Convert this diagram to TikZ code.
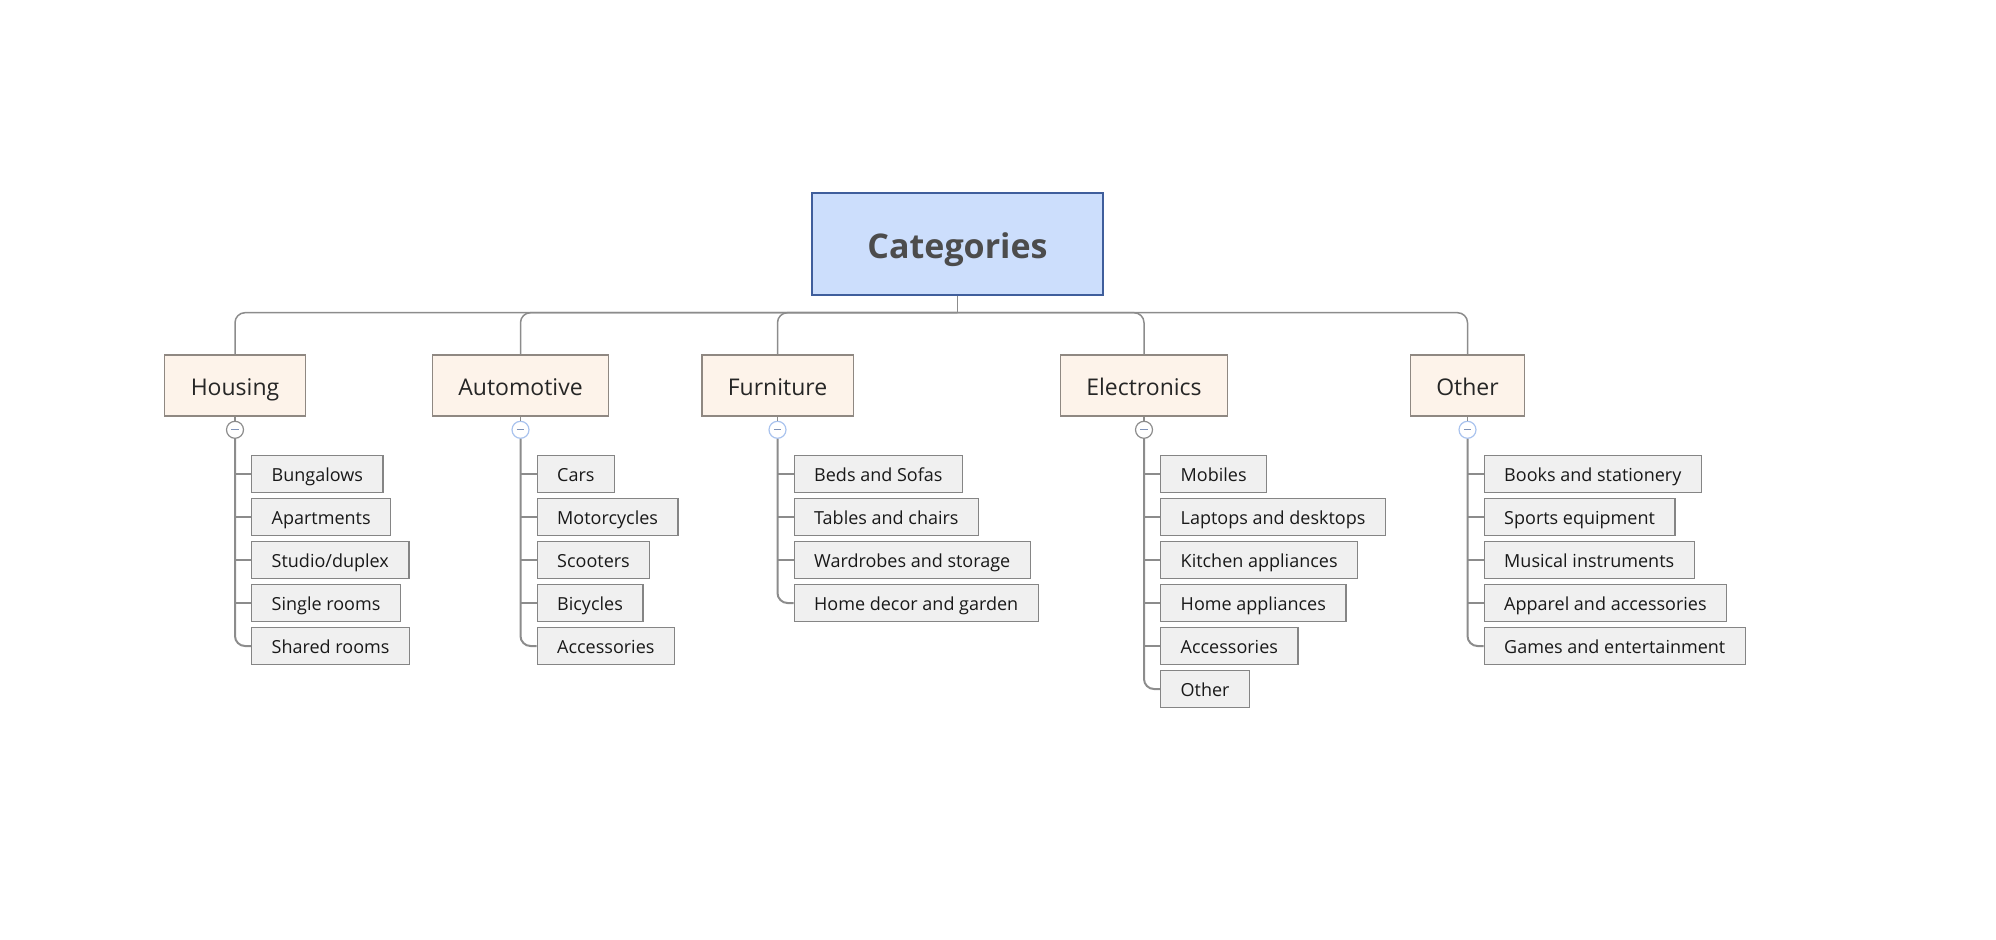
\documentclass[tikz,border=0pt]{standalone}
\usepackage{fontspec}
\setmainfont{Open Sans}
\usetikzlibrary{positioning}

\definecolor{rootfill}{HTML}{CCDEFC}
\definecolor{rootline}{HTML}{3F5E9C}
\definecolor{catfill}{HTML}{FDF3EA}
\definecolor{catline}{HTML}{8F8882}
\definecolor{leaffill}{HTML}{F0F0F0}
\definecolor{leafline}{HTML}{858585}
\definecolor{wirecol}{HTML}{8C8C8C}
\definecolor{togblue}{HTML}{A9C3EE}
\definecolor{minuscol}{HTML}{7F93B8}

\begin{document}
\begin{tikzpicture}[x=0.5pt,y=-0.5pt,
  root/.style={draw=rootline,fill=rootfill,line width=0.7pt,minimum width=145.5pt,
    minimum height=51pt,text height=17.5pt,text depth=3pt,
    font=\fontsize{17}{20}\selectfont\bfseries,text=black!70},
  cat/.style={draw=catline,fill=catfill,line width=0.7pt,minimum height=30.5pt,
    inner xsep=13pt,text height=12pt,text depth=2pt,
    font=\fontsize{11.5}{14}\selectfont,text=black!85},
  leaf/.style={draw=leafline,fill=leaffill,line width=0.7pt,minimum height=18.25pt,
    inner xsep=10pt,text height=9pt,text depth=1.8pt,anchor=west,
    font=\fontsize{9}{11}\selectfont,text=black!90},
  tog/.style={circle,draw=togblue,fill=white,line width=0.6pt,minimum size=8.5pt,inner sep=0pt,
    path picture={\draw[minuscol,line width=0.6pt]
      ([xshift=-1.8pt]path picture bounding box.center) -- ([xshift=1.8pt]path picture bounding box.center);}},
  togoff/.style={tog,draw=wirecol},
  wire/.style={draw=wirecol,line width=0.75pt},
  stem/.style={draw=wirecol,line width=1pt}]
  \useasboundingbox (0,0) rectangle (1996,940);

  % root and the bus under it
  \node[root] (cats) at (957.5,244) {Categories};
  \coordinate (bus) at ([yshift=-8.5pt]cats.south);
  \draw[wire] (cats.south) -- (bus);

  % first level
  \node[cat] (hou) at (235,385.5)    {Housing};
  \node[cat] (aut) at (520.5,385.5)  {Automotive};
  \node[cat] (fur) at (777.5,385.5)  {Furniture};
  \node[cat] (ele) at (1144,385.5)   {Electronics};
  \node[cat] (oth) at (1467.5,385.5) {Other};
  \foreach \c in {hou,aut,fur,ele,oth}
    \draw[wire,rounded corners=5pt] (bus) -| (\c.north);

  % collapse buttons
  \node[togoff,below=2pt of hou] (houT) {};
  \node[tog,below=2pt of aut]    (autT) {};
  \node[tog,below=2pt of fur]    (furT) {};
  \node[togoff,below=2pt of ele] (eleT) {};
  \node[tog,below=2pt of oth]    (othT) {};
  \foreach \c in {hou,aut,fur,ele,oth}
    \draw[wire] (\c.south) -- (\c T.north);

  % Housing
  \node[leaf] (hou1) at (251,474) {Bungalows};
  \node[leaf] (hou2) at (251,517) {Apartments};
  \node[leaf] (hou3) at (251,560) {Studio/duplex};
  \node[leaf] (hou4) at (251,603) {Single rooms};
  \node[leaf] (hou5) at (251,646) {Shared rooms};
  \draw[stem,rounded corners=5pt] (houT.south) |- (hou5.west);
  \foreach \k in {1,...,4}
    \draw[wire] (hou\k.west) -- (hou\k.west -| houT.center);

  % Automotive
  \node[leaf] (aut1) at (536.5,474) {Cars};
  \node[leaf] (aut2) at (536.5,517) {Motorcycles};
  \node[leaf] (aut3) at (536.5,560) {Scooters};
  \node[leaf] (aut4) at (536.5,603) {Bicycles};
  \node[leaf] (aut5) at (536.5,646) {Accessories};
  \draw[stem,rounded corners=5pt] (autT.south) |- (aut5.west);
  \foreach \k in {1,...,4}
    \draw[wire] (aut\k.west) -- (aut\k.west -| autT.center);

  % Furniture
  \node[leaf] (fur1) at (793.5,474) {Beds and Sofas};
  \node[leaf] (fur2) at (793.5,517) {Tables and chairs};
  \node[leaf] (fur3) at (793.5,560) {Wardrobes and storage};
  \node[leaf] (fur4) at (793.5,603) {Home decor and garden};
  \draw[stem,rounded corners=5pt] (furT.south) |- (fur4.west);
  \foreach \k in {1,...,3}
    \draw[wire] (fur\k.west) -- (fur\k.west -| furT.center);

  % Electronics
  \node[leaf] (ele1) at (1160,474) {Mobiles};
  \node[leaf] (ele2) at (1160,517) {Laptops and desktops};
  \node[leaf] (ele3) at (1160,560) {Kitchen appliances};
  \node[leaf] (ele4) at (1160,603) {Home appliances};
  \node[leaf] (ele5) at (1160,646) {Accessories};
  \node[leaf] (ele6) at (1160,689) {Other};
  \draw[stem,rounded corners=5pt] (eleT.south) |- (ele6.west);
  \foreach \k in {1,...,5}
    \draw[wire] (ele\k.west) -- (ele\k.west -| eleT.center);

  % Other
  \node[leaf] (oth1) at (1483.5,474) {Books and stationery};
  \node[leaf] (oth2) at (1483.5,517) {Sports equipment};
  \node[leaf] (oth3) at (1483.5,560) {Musical instruments};
  \node[leaf] (oth4) at (1483.5,603) {Apparel and accessories};
  \node[leaf] (oth5) at (1483.5,646) {Games and entertainment};
  \draw[stem,rounded corners=5pt] (othT.south) |- (oth5.west);
  \foreach \k in {1,...,4}
    \draw[wire] (oth\k.west) -- (oth\k.west -| othT.center);
\end{tikzpicture}
\end{document}
